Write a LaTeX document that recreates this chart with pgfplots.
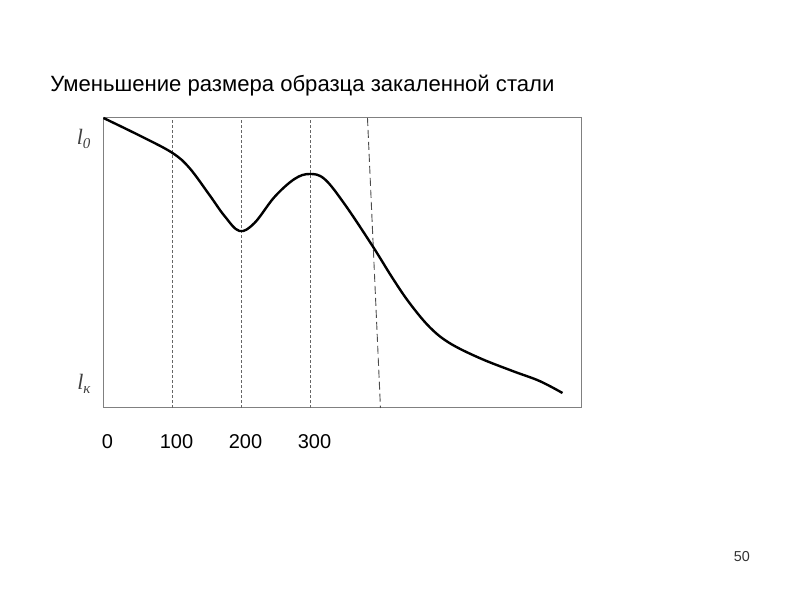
\documentclass[border=0pt]{standalone}
\usepackage{pgfplots}
\pgfplotsset{compat=1.18}
\usepackage{fontspec}
\setmainfont{Liberation Sans}
\newfontfamily\tnr{Liberation Serif}
\begin{document}
\begin{tikzpicture}[x=0.5pt,y=0.5pt]
\path (0,0) rectangle (800,600);
\node[anchor=base west,inner sep=0pt,font=\fontsize{11.05}{13}\selectfont] at (50,508) {Уменьшение размера образца закаленной стали};
\node[anchor=base,inner sep=0pt,font=\fontsize{7.2}{9}\selectfont,text=black!80] at (742,38) {50};
\begin{axis}[
  at={(150,192)}, anchor=south west,
  scale only axis, width=239pt, height=145pt,
  xmin=0, xmax=692.75, ymin=0, ymax=290,
  axis line style={gray, line width=0.5pt},
  xtick={0,100,200,300},
  xticklabels={0,100,200,300},
  xticklabel style={font=\fontsize{10}{12}\selectfont, yshift=-9.5pt, xshift=2pt},
  /pgf/number format/assume math mode=true,
  ytick={269,24},
  yticklabels={{\tnr\itshape\fontsize{11}{12}\selectfont l\raisebox{-0.4ex}{\fontsize{7.5}{8}\selectfont 0}},{\tnr\itshape\fontsize{11}{12}\selectfont l\raisebox{-0.4ex}{\fontsize{7.5}{8}\selectfont к}}},
  yticklabel style={text=black!75, xshift=-3pt},
  major tick length=0pt,
  clip=false,
]
\addplot[gray!80!black, line width=0.4pt, dash pattern=on 1.5pt off 1pt] coordinates {(100,0) (100,290)};
\addplot[gray!80!black, line width=0.4pt, dash pattern=on 1.5pt off 1pt] coordinates {(200,0) (200,290)};
\addplot[gray!80!black, line width=0.4pt, dash pattern=on 1.5pt off 1pt] coordinates {(300,0) (300,290)};
\addplot[gray!60!black, line width=0.45pt, dash pattern=on 4pt off 2pt] coordinates {(382.6,290) (401.4,0)};
\addplot[black, line width=1.2pt, smooth, tension=0.6] coordinates {
(0,290) (56.5,271) (100,255) (124.6,240) (153.6,213) (175.4,192) (197.1,177)
(218.8,185) (247.8,211) (276.8,229) (298.6,234) (320.3,229) (349.3,204)
(389.9,162) (418.8,130) (443.5,105) (472.5,81) (501.4,65) (544.9,50)
(592.8,37) (631.9,27) (665.2,15)
};
\end{axis}
\end{tikzpicture}
\end{document}
